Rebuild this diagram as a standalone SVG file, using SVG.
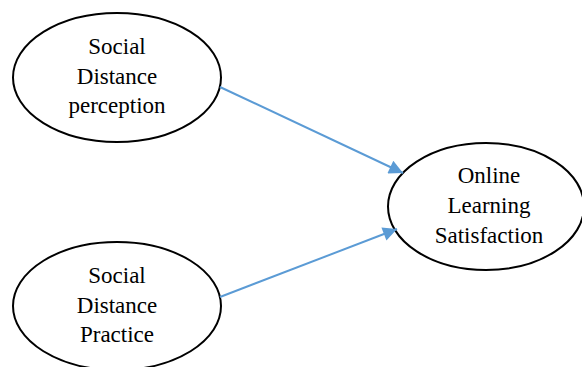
<svg xmlns="http://www.w3.org/2000/svg" width="582" height="367" viewBox="0 0 582 367">
<style>
.node ellipse{fill:#fff;stroke:#000;stroke-width:2}
.node text{font-family:"Liberation Serif","Times New Roman",serif;font-size:23px;fill:#000;text-anchor:middle}
.conn line{stroke:#5B9BD5;stroke-width:2;marker-end:url(#ah)}
</style>
<defs>
<marker id="ah" viewBox="0 0 10 10" refX="10" refY="5" markerUnits="userSpaceOnUse" markerWidth="17" markerHeight="14" orient="auto">
<path d="M0,0 L10,5 L0,10 Z" fill="#5B9BD5"/>
</marker>
</defs>
<rect width="582" height="367" fill="#fff"/>
<g id="n1" class="node">
<ellipse cx="117" cy="77.5" rx="104" ry="64.5"/>
<text x="117" y="54">Social</text>
<text x="117" y="84">Distance</text>
<text x="117" y="113">perception</text>
</g>
<g id="n2" class="node">
<ellipse cx="117" cy="306" rx="104" ry="64"/>
<text x="117" y="283">Social</text>
<text x="117" y="313">Distance</text>
<text x="117" y="342">Practice</text>
</g>
<g id="n3" class="node">
<ellipse cx="486" cy="206.5" rx="98" ry="63.5"/>
<text x="489" y="183">Online</text>
<text x="489" y="213">Learning</text>
<text x="489" y="243">Satisfaction</text>
</g>
<g id="connectors" class="conn">
<line x1="220" y1="87" x2="403" y2="173"/>
<line x1="220" y1="297" x2="397" y2="229"/>
</g>
</svg>
